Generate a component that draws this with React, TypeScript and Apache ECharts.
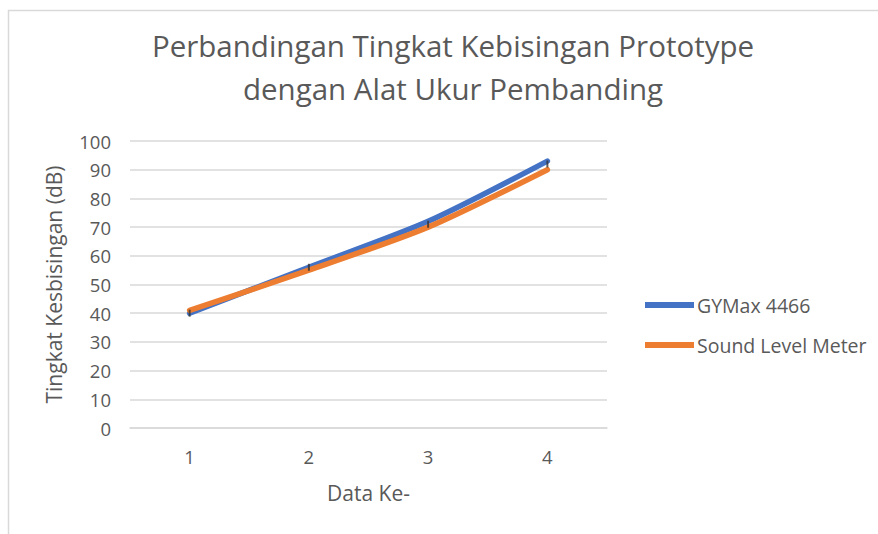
import React, { useEffect, useRef } from "react";
import * as echarts from "echarts";

const categories = ["1", "2", "3", "4"];
const gyMax = [40, 56, 72, 93];
const soundLevelMeter = [41, 55, 70, 90];
const errorMarks = [40, 56, 71, 92];
const titleLines = ["Perbandingan Tingkat Kebisingan Prototype", "dengan Alat Ukur Pembanding"];

const FONT = "Open Sans";
const GREY = "#595959";

export default function App() {
  const ref = useRef<HTMLDivElement>(null);
  useEffect(() => {
    if (!ref.current) return;
    const chart = echarts.init(ref.current, null, { renderer: "svg" });
    chart.setOption({
      animation: false,
      backgroundColor: "#ffffff",
      textStyle: { fontFamily: FONT },
      title: {
        text: titleLines.join("\n"),
        left: 448,
        top: 19,
        textAlign: "center",
        textStyle: { fontFamily: FONT, fontSize: 29.5, fontWeight: "normal", color: GREY, lineHeight: 43 },
      },
      graphic: [
        {
          type: "rect",
          shape: { x: 8.5, y: 10.5, width: 1000, height: 1000 },
          style: { fill: "none", stroke: "#d9d9d9", lineWidth: 1.5 },
          silent: true,
        },
      ],
      legend: {
        orient: "vertical",
        left: 640,
        top: 290,
        itemGap: 20,
        itemWidth: 49,
        itemHeight: 6,
        icon: "rect",
        textStyle: { fontFamily: FONT, fontSize: 19.5, color: GREY, padding: [0, 0, 0, -2] },
        data: ["GYMax 4466", "Sound Level Meter"],
      },
      grid: { left: 130, top: 141, width: 477, height: 287, containLabel: false },
      xAxis: {
        type: "category",
        data: categories,
        boundaryGap: true,
        name: "Data Ke-",
        nameLocation: "middle",
        nameGap: 54,
        nameTextStyle: { fontFamily: FONT, fontSize: 21, color: GREY },
        axisLine: { show: true, lineStyle: { color: "#d9d9d9", width: 1.5 } },
        axisTick: { show: false },
        axisLabel: { fontFamily: FONT, fontSize: 18.5, color: GREY, margin: 19 },
      },
      yAxis: {
        type: "value",
        min: 0,
        max: 100,
        interval: 10,
        name: "Tingkat Kesbisingan (dB)",
        nameLocation: "middle",
        nameGap: 66,
        nameRotate: 90,
        nameTextStyle: { fontFamily: FONT, fontSize: 21, color: GREY },
        axisLine: { show: false },
        axisTick: { show: false },
        axisLabel: { fontFamily: FONT, fontSize: 18.5, color: GREY, margin: 19 },
        splitLine: { lineStyle: { color: "#d9d9d9", width: 1.5 } },
      },
      series: [
        {
          name: "GYMax 4466",
          type: "line",
          data: gyMax,
          smooth: 0.25,
          showSymbol: false,
          symbol: "none",
          lineStyle: { color: "#4472C4", width: 5.5, cap: "round" },
          itemStyle: { color: "#4472C4" },
          z: 2,
        },
        {
          name: "Sound Level Meter",
          type: "line",
          data: soundLevelMeter,
          smooth: 0.25,
          showSymbol: false,
          symbol: "none",
          lineStyle: { color: "#ED7D31", width: 5.5, cap: "round" },
          itemStyle: { color: "#ED7D31" },
          z: 3,
        },
        {
          name: "marks",
          type: "scatter",
          data: errorMarks,
          symbol: "rect",
          symbolSize: [2, 7],
          itemStyle: { color: "#333333" },
          z: 5,
          silent: true,
        },
      ],
    });
    return () => chart.dispose();
  }, []);
  return (
    <div
      ref={ref}
      style={{ position: "fixed", left: 0, top: 0, width: 878, height: 534 }}
    />
  );
}
